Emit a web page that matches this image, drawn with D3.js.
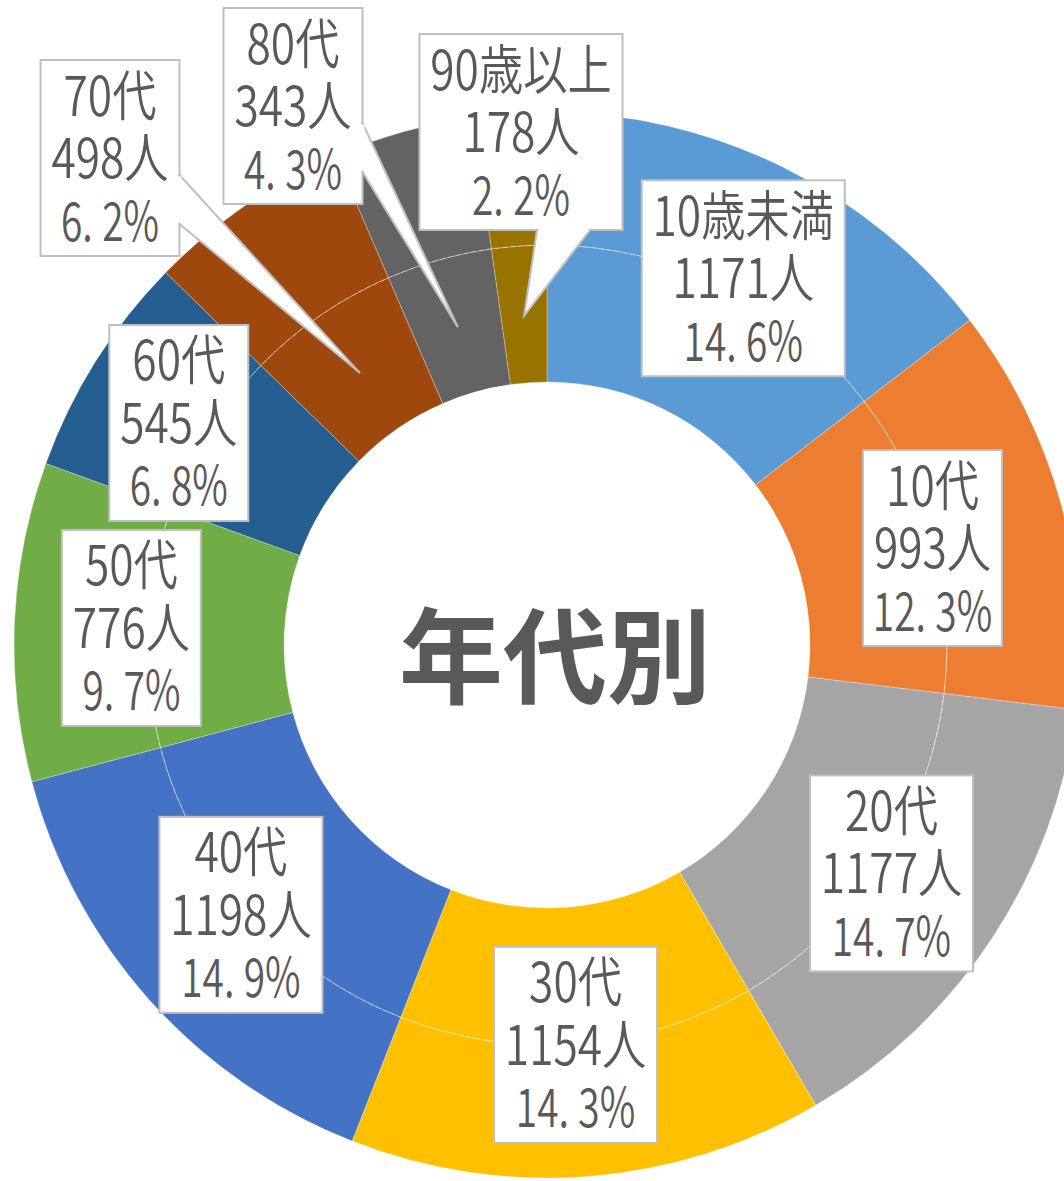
<!DOCTYPE html>
<html>
<head>
<meta charset="utf-8">
<script src="https://cdn.jsdelivr.net/npm/d3@7"></script>
<style>
  body { margin: 0; background: #fff; }
  svg { display: block; }
  text { font-family: "Noto Sans CJK JP", "Noto Sans", sans-serif; fill: #595959; }
</style>
</head>
<body>
<div id="chart"></div>
<script>
var categories = ["10歳未満", "10代", "20代", "30代", "40代", "50代", "60代", "70代", "80代", "90歳以上"];
var counts = [1171, 993, 1177, 1154, 1198, 776, 545, 498, 343, 178];
var percents = [14.6, 12.3, 14.7, 14.3, 14.9, 9.7, 6.8, 6.2, 4.3, 2.2];
var colors = ["#5B9BD5", "#ED7D31", "#A5A5A5", "#FFC000", "#4472C4", "#70AD47", "#255E91", "#9E480E", "#636363", "#997300"];
var title = "年代別";

// label nudges from the slice centroid; callouts get a pointer
var labelShift = [[15, 1], [-10, 11], [2, 3], [-3, -9], [0, -3], [-6, 1], [-21, -4], [0, 0], [0, 0], [0, 0]];
var calloutBox = {7: [110, 158, "right"], 8: [293, 106, "right"], 9: [521, 132, "bottom"]};

var width = 1064, height = 1181;
var cx = 547, cy = 645;
var rIn = 263, rMid = 400, rOut = 533;

var data = categories.map(function(c, i) {
  return {name: c, count: counts[i], pct: percents[i], color: colors[i], i: i};
});

var svg = d3.select("#chart").append("svg")
    .attr("width", width)
    .attr("height", height);

var g = svg.append("g")
    .attr("transform", "translate(" + cx + "," + cy + ")");

var pie = d3.pie().sort(null).value(function(d) { return d.count; });
var arcs = pie(data);

var arcInner = d3.arc().innerRadius(rIn).outerRadius(rMid);
var arcOuter = d3.arc().innerRadius(rMid).outerRadius(rOut);
var labelArc = d3.arc().innerRadius(410).outerRadius(410);
var tipArc = d3.arc().innerRadius(330).outerRadius(330);

[arcInner, arcOuter].forEach(function(a) {
  g.selectAll(null)
    .data(arcs)
    .enter().append("path")
      .attr("d", a)
      .style("fill", function(d) { return d.data.color; })
      .style("stroke", "rgba(255,255,255,0.35)")
      .style("stroke-width", 0.8);
});

g.append("circle")
    .attr("r", rMid)
    .style("fill", "none")
    .style("stroke", "rgba(255,255,255,0.45)")
    .style("stroke-width", 0.8)
    .style("stroke-dasharray", "5 3");

g.append("text")
    .attr("x", 8)
    .attr("y", 5)
    .attr("text-anchor", "middle")
    .attr("dominant-baseline", "central")
    .style("font-size", "104px")
    .style("font-weight", "bold")
    .text(title);

var fs = 54, sx = 0.82, sxPct = 0.72, lineH = 62.5, boxH = 196, padX = 11;

arcs.forEach(function(d) {
  var i = d.data.i;
  var c = labelArc.centroid(d);
  var bx, by;
  if (calloutBox[i]) {
    bx = calloutBox[i][0] - cx;
    by = calloutBox[i][1] - cy;
  } else {
    bx = c[0] + labelShift[i][0];
    by = c[1] + labelShift[i][1];
  }

  var lg = g.append("g");
  var box = lg.append("rect");
  var pointer = lg.append("path");
  var join = lg.append("line");

  var pctStr = d.data.pct.toFixed(1).split(".");
  var lines = [d.data.name, d.data.count + "人", null];
  var maxW = 0;
  lines.forEach(function(s, k) {
    var k_sx = s === null ? sxPct : sx;
    var t = lg.append("text")
        .attr("text-anchor", "middle")
        .attr("transform", "translate(" + bx + "," + (by + (k - 1) * lineH + 20) + ") scale(" + k_sx + ",1)")
        .style("font-size", fs + "px")
        .style("font-weight", 350);
    if (s !== null) {
      t.text(s);
    } else {
      t.append("tspan").text(pctStr[0] + ".");
      t.append("tspan").attr("dx", 13).text(pctStr[1] + "%");
    }
    var w = t.node().getComputedTextLength() * k_sx;
    maxW = Math.max(maxW, w);
  });

  var bw = Math.round(maxW + padX * 2);
  var x0 = bx - bw / 2, y0 = by - boxH / 2;
  box.attr("x", x0).attr("y", y0)
      .attr("width", bw).attr("height", boxH)
      .style("fill", "#fff")
      .style("stroke", "#BFBFBF")
      .style("stroke-width", 2);

  if (calloutBox[i]) {
    var tip = tipArc.centroid(d);
    var b1, b2;
    if (calloutBox[i][2] === "right") {
      b1 = [x0 + bw, by + 17];
      b2 = [x0 + bw, by + 66];
    } else {
      b1 = [bx + 16, y0 + boxH];
      b2 = [bx + 69, y0 + boxH];
    }
    pointer.attr("d", "M" + b1 + "L" + tip + "L" + b2 + "Z")
        .style("fill", "#fff")
        .style("stroke", "#BFBFBF")
        .style("stroke-width", 2)
        .style("stroke-linejoin", "miter");
    var ux = b2[0] - b1[0], uy = b2[1] - b1[1], len = Math.hypot(ux, uy);
    ux /= len; uy /= len;
    join.attr("x1", b1[0] + ux * 1.5).attr("y1", b1[1] + uy * 1.5)
        .attr("x2", b2[0] - ux * 1.5).attr("y2", b2[1] - uy * 1.5)
        .style("stroke", "#fff")
        .style("stroke-width", 4);
  }
});
</script>
</body>
</html>
